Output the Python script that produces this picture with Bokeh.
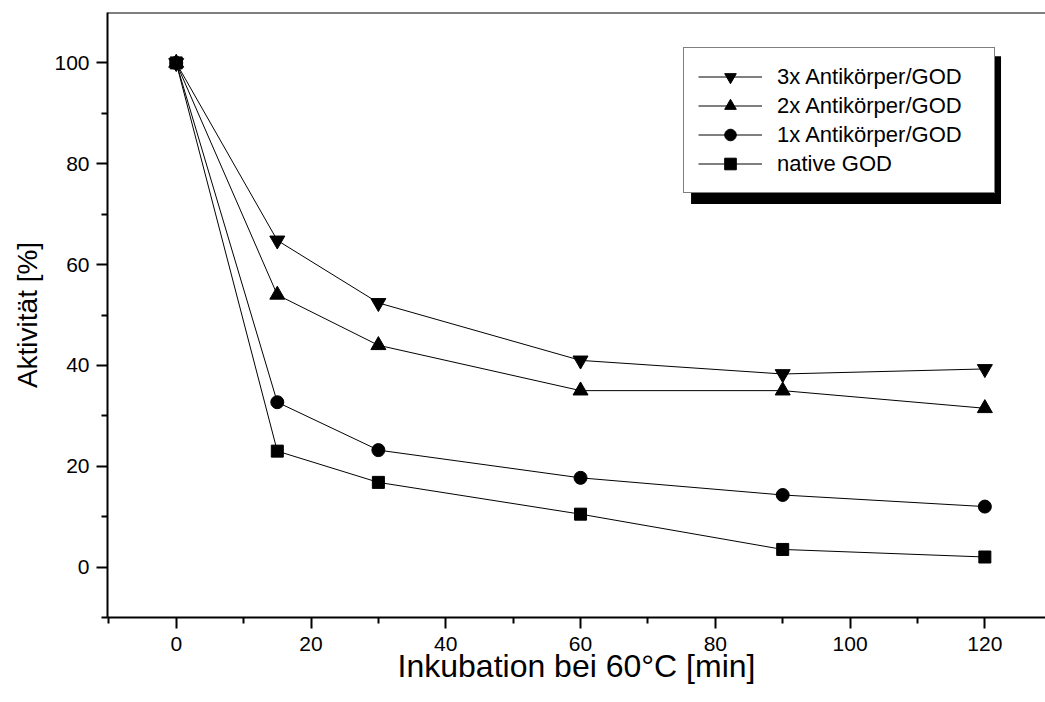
from bokeh.plotting import figure
from bokeh.models import (Legend, LegendItem, BoxAnnotation, Span, Range1d,
                          FixedTicker)
from bokeh.embed import file_html
from bokeh.resources import INLINE

# Incubation time at 60 °C [min]
time_min = [0, 15, 30, 60, 90, 120]

# Residual activity [%]
native_god = [100, 23.0, 16.8, 10.5, 3.5, 2.0]
ak_1x = [100, 32.7, 23.2, 17.7, 14.3, 12.0]
ak_2x = [100, 54.0, 44.0, 35.0, 35.0, 31.5]
ak_3x = [100, 64.8, 52.4, 41.0, 38.3, 39.3]

series_labels = ["3x Antikörper/GOD", "2x Antikörper/GOD",
                 "1x Antikörper/GOD", "native GOD"]

x_ticks = [0, 20, 40, 60, 80, 100, 120]
y_ticks = [0, 20, 40, 60, 80, 100]

FONT = "Liberation Sans"

p = figure(width=1045, height=702, output_backend="svg", toolbar_location=None,
           x_range=Range1d(-10.2, 129.0), y_range=Range1d(-10.0, 110.0),
           min_border_left=107, min_border_right=0, min_border_top=12,
           min_border_bottom=85)
p.outline_line_color = None
p.grid.visible = False
p.background_fill_color = "white"
p.border_fill_color = "white"

# axes
for ax in (p.xaxis[0], p.yaxis[0]):
    ax.axis_line_width = 2
    ax.axis_line_color = "black"
    ax.major_tick_line_width = 2
    ax.minor_tick_line_width = 2
    ax.major_tick_out = 11
    ax.major_tick_in = 0
    ax.minor_tick_out = 6
    ax.minor_tick_in = 0
    ax.major_label_text_font = FONT
    ax.major_label_text_color = "black"
    ax.axis_label_text_font = FONT
    ax.axis_label_text_font_style = "normal"
    ax.axis_label_text_color = "black"

p.xaxis.ticker = FixedTicker(ticks=x_ticks,
                             minor_ticks=[-10, 10, 30, 50, 70, 90, 110])
p.yaxis.ticker = FixedTicker(ticks=y_ticks,
                             minor_ticks=[-10, 10, 30, 50, 70, 90])
p.xaxis.axis_label = "Inkubation bei 60°C [min]"
p.yaxis.axis_label = "Aktivität [%]"
p.xaxis.major_label_text_font_size = "21px"
p.yaxis.major_label_text_font_size = "21px"
p.xaxis.axis_label_text_font_size = "32px"
p.yaxis.axis_label_text_font_size = "28px"
p.xaxis.major_label_standoff = 8
p.yaxis.major_label_standoff = 7
p.xaxis.axis_label_standoff = -6
p.yaxis.axis_label_standoff = 8

# closing line along the top of the frame
p.add_layout(Span(location=110, dimension="width", line_color="black",
                  line_width=2))

# series: line + marker
specs = [
    (native_god, "square", 12),
    (ak_1x, "circle", 13),
    (ak_2x, "triangle", 15),
    (ak_3x, "inverted_triangle", 15),
]
renderers = []
for ys, marker, size in specs:
    ln = p.line(time_min, ys, line_color="black", line_width=1)
    sc = p.scatter(time_min, ys, marker=marker, size=size,
                   fill_color="black", line_color="black")
    renderers.append((ln, sc))

# drop shadow behind the legend box
shadow = BoxAnnotation(left=76.4, right=122.4, top=101.3, bottom=72.0,
                       fill_color="black", fill_alpha=1.0,
                       line_color=None)
p.add_layout(shadow)

items = [LegendItem(label=lab, renderers=list(r))
         for lab, r in zip(series_labels, reversed(renderers))]
legend = Legend(items=items, location=(576, 424), margin=0,
                padding=14, spacing=0,
                glyph_width=64, glyph_height=29, label_height=29,
                label_standoff=15, label_width=203,
                label_text_font=FONT, label_text_font_size="22px",
                label_text_color="black",
                border_line_color="black", border_line_width=1,
                background_fill_color="white", background_fill_alpha=1.0)
p.add_layout(legend, "center")

open("out.html", "w").write(file_html(p, INLINE))
